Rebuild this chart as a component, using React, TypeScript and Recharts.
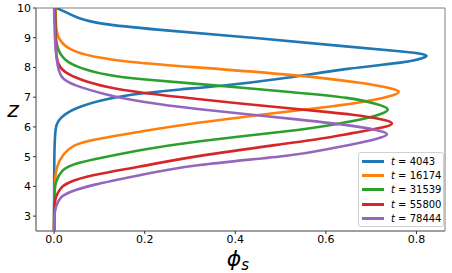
import React from 'react';
import {
  ScatterChart,
  Scatter,
  XAxis,
  YAxis,
  ReferenceArea,
} from 'recharts';

// profiles: [phi_s, z], top to bottom
const t4043: [number, number][] = [
  [0.005, 10.0], [0.017, 9.93], [0.05, 9.66], [0.1, 9.46], [0.21, 9.29], [0.43, 9.02],
  [0.653, 8.69], [0.785, 8.52], [0.815, 8.45], [0.826, 8.39], [0.815, 8.32], [0.785, 8.18],
  [0.65, 7.98], [0.5, 7.61], [0.36, 7.36], [0.28, 7.27], [0.19, 7.13], [0.116, 6.96],
  [0.042, 6.63], [0.013, 6.3], [0.005, 6.1], [0.002, 5.8], [0, 5.0], [0, 2.5],
];
const t16174: [number, number][] = [
  [0.003, 10.0], [0.004, 9.5], [0.005, 9.2], [0.013, 8.87], [0.035, 8.59], [0.079, 8.36],
  [0.19, 8.14], [0.3, 8.02], [0.542, 7.74], [0.69, 7.47], [0.745, 7.3], [0.769, 7.18],
  [0.745, 7.04], [0.69, 6.85], [0.609, 6.68], [0.542, 6.57], [0.3, 6.12], [0.19, 5.84],
  [0.079, 5.56], [0.042, 5.39], [0.02, 5.11], [0.005, 4.66], [0.001, 4.2], [0, 2.5],
];
const t31539: [number, number][] = [
  [0.002, 10.0], [0.003, 9.2], [0.005, 8.7], [0.02, 8.25], [0.057, 7.97], [0.116, 7.74],
  [0.19, 7.6], [0.3, 7.47], [0.542, 7.15], [0.653, 6.99], [0.72, 6.75], [0.745, 6.59],
  [0.72, 6.4], [0.653, 6.17], [0.609, 6.06], [0.542, 5.89], [0.3, 5.5], [0.19, 5.22],
  [0.116, 5.0], [0.042, 4.77], [0.016, 4.55], [0.003, 4.15], [0, 3.8], [0, 2.5],
];
const t55800: [number, number][] = [
  [0.002, 10.0], [0.003, 8.5], [0.009, 8.08], [0.02, 7.86], [0.057, 7.58], [0.116, 7.33],
  [0.19, 7.15], [0.3, 6.96], [0.542, 6.59], [0.609, 6.49], [0.653, 6.43], [0.73, 6.25],
  [0.754, 6.12], [0.73, 5.98], [0.653, 5.78], [0.609, 5.65], [0.542, 5.5], [0.3, 5.0],
  [0.19, 4.66], [0.079, 4.38], [0.027, 4.12], [0.013, 3.93], [0.003, 3.65], [0, 3.3], [0, 2.5],
];
const t78444: [number, number][] = [
  [0, 10.0], [0.0015, 9.0], [0.005, 8.25], [0.013, 7.63], [0.042, 7.41], [0.116, 7.07],
  [0.19, 6.85], [0.3, 6.62], [0.542, 6.25], [0.653, 6.06], [0.72, 5.88], [0.742, 5.76],
  [0.72, 5.62], [0.653, 5.39], [0.609, 5.28], [0.542, 5.05], [0.3, 4.72], [0.19, 4.38],
  [0.079, 4.04], [0.035, 3.82], [0.013, 3.65], [0.003, 3.31], [0, 3.0], [0, 2.5],
];

const times = ['4043', '16174', '31539', '55800', '78444'];
const profiles = [t4043, t16174, t31539, t55800, t78444];
const colors = ['#1f77b4', '#ff7f0e', '#2ca02c', '#d62728', '#9467bd'];

const xTicks = [0, 0.2, 0.4, 0.6, 0.8];
const yTicks = [3, 4, 5, 6, 7, 8, 9, 10];
const xDomain: [number, number] = [-0.04, 0.863];
const yDomain: [number, number] = [2.5, 10];

const FONT = '"DejaVu Sans", sans-serif';

const series = profiles.map((p) => p.map(([phi, z]) => ({ phi, z })));

// legend drawn as an overlay so it takes no room from the plot
const LegendBox = () => (
  <div
    style={{
      position: 'absolute',
      left: 358,
      top: 152,
      width: 86,
      height: 75,
      border: '1px solid #d0d0d0',
      borderRadius: 3,
      background: 'rgba(255,255,255,0.8)',
      boxSizing: 'border-box',
      fontFamily: FONT,
      fontSize: 10,
      paddingTop: 1,
    }}
  >
    {times.map((t, i) => (
      <div key={t} style={{ display: 'flex', alignItems: 'center', height: 14.3 }}>
        <div style={{ width: 22, height: 3, background: colors[i], marginLeft: 3, marginRight: 7 }} />
        <span style={{ whiteSpace: 'pre' }}>
          <i>t</i>{` = ${t}`}
        </span>
      </div>
    ))}
  </div>
);

const App = () => {
  return (
    <div style={{ position: 'absolute', left: 0, top: 0, width: 452, height: 273, background: '#fff' }}>
      <ScatterChart width={452} height={273} margin={{ top: 8, right: 7, bottom: 0, left: 0 }}>
        <XAxis
          type="number"
          dataKey="phi"
          domain={xDomain}
          ticks={xTicks}
          tickFormatter={(v) => v.toFixed(1)}
          height={42}
          tickSize={3}
          tickMargin={1}
          axisLine={{ stroke: '#808080' }}
          tickLine={{ stroke: '#333' }}
          tick={{ fill: '#000', fontSize: 11, fontFamily: FONT }}
          allowDataOverflow
        />
        <YAxis
          type="number"
          dataKey="z"
          domain={yDomain}
          ticks={yTicks}
          width={36}
          tickSize={3}
          tickMargin={2}
          axisLine={{ stroke: '#808080' }}
          tickLine={{ stroke: '#333' }}
          tick={{ fill: '#000', fontSize: 11, fontFamily: FONT }}
          allowDataOverflow
        />
        <ReferenceArea
          x1={xDomain[0]}
          x2={xDomain[1]}
          y1={yDomain[0]}
          y2={yDomain[1]}
          fill="none"
          stroke="#808080"
          strokeWidth={1}
          ifOverflow="visible"
        />
        {series.map((d, i) => (
          <Scatter
            key={times[i]}
            name={`t = ${times[i]}`}
            data={d}
            line={{ stroke: colors[i], strokeWidth: 2.6 }}
            lineType="joint"
            lineJointType="basis"
            shape={() => <g />}
            isAnimationActive={false}
          />
        ))}
        <text x={13} y={117} fontSize={22} fontStyle="italic" fontFamily={FONT} textAnchor="middle">
          z
        </text>
        <text x={238} y={266} fontSize={22} fontFamily={FONT} textAnchor="middle">
          <tspan fontStyle="italic">ϕ</tspan>
          <tspan fontSize={15} fontStyle="italic" dy={4}>s</tspan>
        </text>
      </ScatterChart>
      <LegendBox />
    </div>
  );
};

export default App;
